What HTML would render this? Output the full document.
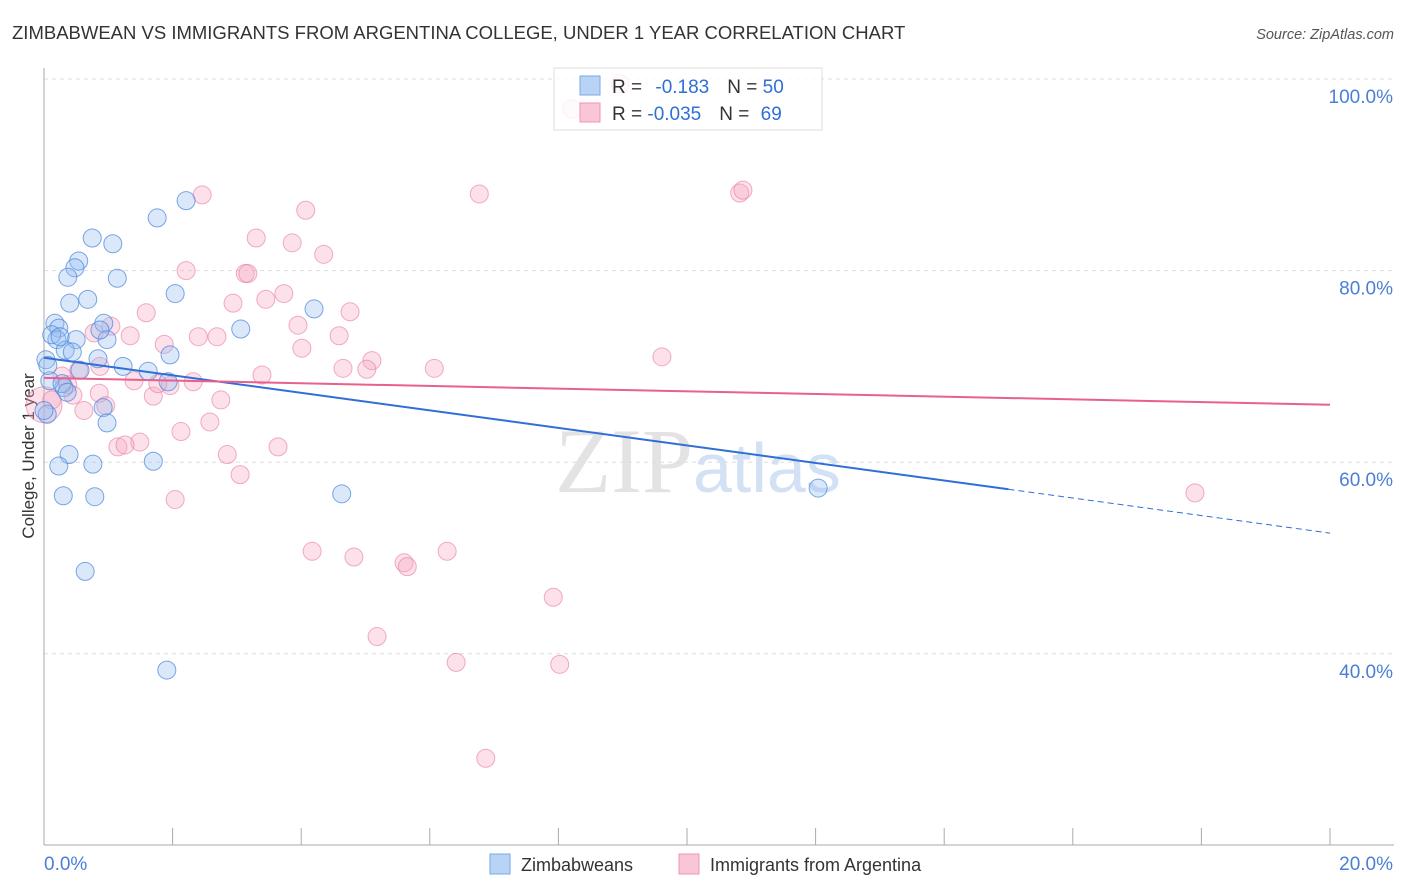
<!DOCTYPE html>
<html><head><meta charset="utf-8"><style>
body{margin:0;background:#fff;font-family:"Liberation Sans",sans-serif}
</style></head><body>
<svg id="c" width="1406" height="892" xmlns="http://www.w3.org/2000/svg" style="display:block">
<text x="12" y="39" font-size="18.5" fill="#333">ZIMBABWEAN VS IMMIGRANTS FROM ARGENTINA COLLEGE, UNDER 1 YEAR CORRELATION CHART</text>
<text x="1394" y="39" font-size="14.5" fill="#555" font-style="italic" text-anchor="end">Source: ZipAtlas.com</text>
<text transform="translate(34,456) rotate(-90)" font-size="17" fill="#333" text-anchor="middle">College, Under 1 year</text>
<text x="555" y="492" font-size="92" fill="#ddd" font-family="Liberation Serif" opacity="0.8">ZIP<tspan fill="#c9daf3" font-family="Liberation Sans" font-size="70">atlas</tspan></text>
<g id="grid"></g><g id="pts"></g><g id="trend"></g>
<g>
<rect x="554" y="68" width="268" height="62" fill="rgba(255,255,255,0.82)" stroke="#ddd"/>
<rect x="580" y="76" width="20" height="19" fill="#b9d3f5" stroke="#7aa8e8"/>
<rect x="580" y="103" width="20" height="19" fill="#f9c6d6" stroke="#ee94b3"/>
<text x="612" y="93" font-size="19" fill="#333">R = <tspan fill="#2f6fd6" dx="8">-0.183</tspan><tspan dx="18" fill="#333">N = </tspan><tspan fill="#2f6fd6">50</tspan></text>
<text x="612" y="120" font-size="19" fill="#333">R = <tspan fill="#2f6fd6">-0.035</tspan><tspan dx="18" fill="#333">N = </tspan><tspan fill="#2f6fd6" dx="6">69</tspan></text>
</g>
<g>
<rect x="490" y="854" width="20" height="20" fill="#b9d3f5" stroke="#7aa8e8"/>
<text x="521" y="871" font-size="18" fill="#333">Zimbabweans</text>
<rect x="679" y="854" width="20" height="20" fill="#f9c6d6" stroke="#ee94b3"/>
<text x="710" y="871" font-size="18" fill="#333">Immigrants from Argentina</text>
</g>
</svg>
<script>
const blueX=[1.76,2.21,0.75,1.07,0.54,0.48,0.37,1.14,0.68,0.40,2.04,4.20,0.17,0.23,0.93,3.06,0.20,0.50,0.98,0.33,0.44,0.03,0.84,1.23,1.96,1.62,0.31,1.93,0.92,0.98,0.39,0.23,0.76,1.70,0.30,0.79,4.63,12.04,0.64,1.91,0.09,0.05,0.06,0.12,0.28,0.56,0.0,0.25,0.87,0.36];
const blueY=[85.5,87.3,83.4,82.8,81.0,80.3,79.3,79.2,77.0,76.6,77.6,76.0,74.5,74.0,74.5,73.9,72.8,72.8,72.8,71.7,71.5,70.7,70.8,70.0,71.2,69.5,67.8,68.4,65.7,64.1,60.8,59.6,59.8,60.1,56.5,56.4,56.7,57.3,48.6,38.3,68.5,65.0,70.1,73.3,68.2,69.6,65.4,73.1,73.8,67.3];
const pinkX=[8.96,8.21,2.46,6.77,10.82,10.87,4.07,3.30,3.86,4.35,2.21,3.13,3.17,2.94,3.45,3.73,1.59,4.76,3.95,4.59,1.04,0.78,1.34,1.87,2.40,2.69,4.01,9.61,5.10,4.65,5.02,6.07,3.39,0.54,0.87,1.40,2.32,1.96,1.70,1.77,2.75,0.86,0.62,0.96,2.58,2.13,1.49,1.15,1.26,2.85,3.64,3.05,2.04,17.9,4.17,4.82,6.27,5.60,5.65,7.92,5.18,6.41,8.02,6.87,0.0,0.12,0.37,0.28,0.45];
const pinkY=[99.5,96.9,87.9,88.0,88.1,88.4,86.3,83.4,82.9,81.7,80.0,79.7,79.7,76.6,77.0,77.6,75.6,75.7,74.3,73.2,74.2,73.5,73.2,72.3,73.1,73.1,71.9,71.0,70.6,69.8,69.7,69.8,69.1,69.6,70.0,68.5,68.4,68.0,66.9,68.2,66.5,67.2,65.4,65.9,64.2,63.2,62.1,61.6,61.8,60.8,61.6,58.7,56.1,56.8,50.7,50.1,50.7,49.5,49.1,45.9,41.8,39.1,38.9,29.1,66.0,66.5,68.1,69.0,67.0];
const blueTrend=[70.9,52.6];
const pinkTrend=[68.8,66.0];
const yTicks=[100,80,60,40];
const NS="http://www.w3.org/2000/svg";
const sx=v=>44+v*64.3, sy=v=>79+(100-v)*9.58;
function mk(t,a,p){const e=document.createElementNS(NS,t);for(const k in a)e.setAttribute(k,a[k]);p.appendChild(e);return e;}
const g=document.getElementById('grid');
yTicks.forEach(t=>{const l=mk('line',{x1:44,x2:1394,y1:sy(t),y2:sy(t),stroke:'#ddd','stroke-dasharray':'4,4'},g);

const tx=mk('text',{x:1393,y:sy(t)+24,'font-size':19,fill:'#4a7fd6','text-anchor':'end'},g);tx.textContent=t.toFixed(1)+'%';
});
const ax=mk('line',{x1:44,x2:44,y1:68,y2:845,stroke:'#aaa'},g);

const bx=mk('line',{x1:44,x2:1394,y1:845,y2:845,stroke:'#aaa'},g);

for(let i=0;i<=10;i++){const tk=mk('line',{x1:sx(i*2),x2:sx(i*2),y1:828,y2:845,stroke:'#aaa'},g);
}
const l0=mk('text',{x:44,y:870,'font-size':19,fill:'#4a7fd6'},g);l0.textContent='0.0%';

const l1=mk('text',{x:1393,y:870,'font-size':19,fill:'#4a7fd6','text-anchor':'end'},g);l1.textContent='20.0%';

const p=document.getElementById('pts');
pinkX.forEach((x,i)=>{const c=mk('circle',{cx:sx(x),cy:sy(pinkY[i]),r:(i==64?18:9),fill:'rgba(246,170,196,0.35)',stroke:'rgba(232,120,160,0.6)','stroke-width':1},p);
});
blueX.forEach((x,i)=>{const c=mk('circle',{cx:sx(x),cy:sy(blueY[i]),r:9,fill:'rgba(150,190,240,0.35)',stroke:'rgba(70,130,220,0.7)','stroke-width':1},p);
});
const tr=document.getElementById('trend');
const bAt=x=>blueTrend[0]+(blueTrend[1]-blueTrend[0])*x/20;
const b1=mk('line',{x1:sx(0),y1:sy(bAt(0)),x2:sx(15),y2:sy(bAt(15)),stroke:'#2f6fd6','stroke-width':2},tr);

const b2=mk('line',{x1:sx(15),y1:sy(bAt(15)),x2:sx(20),y2:sy(bAt(20)),stroke:'#2f6fd6','stroke-width':1,'stroke-dasharray':'6,4'},tr);

const pl=mk('line',{x1:sx(0),y1:sy(pinkTrend[0]),x2:sx(20),y2:sy(pinkTrend[1]),stroke:'#e8608e','stroke-width':2},tr);

</script>
</body></html>
